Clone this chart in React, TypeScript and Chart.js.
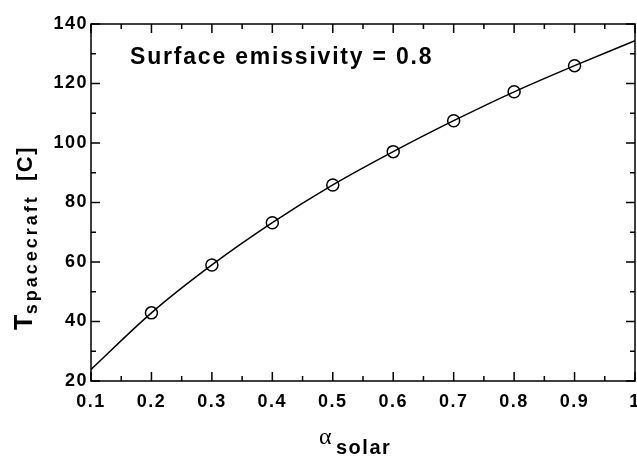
import React, { useEffect, useRef } from "react";
import { Chart, registerables } from "chart.js";

Chart.register(...registerables);

// ---- data ----
const curveAlpha = [0.1, 0.2, 0.3, 0.4, 0.5, 0.6, 0.7, 0.8, 0.9, 1.0];
const curveT = [23.9, 42.9, 59.0, 73.2, 85.9, 97.1, 107.5, 117.2, 126.0, 134.4];
const markerAlpha = [0.2, 0.3, 0.4, 0.5, 0.6, 0.7, 0.8, 0.9];
const markerT = [42.9, 59.0, 73.2, 85.9, 97.1, 107.5, 117.2, 126.0];
const xMajorTicks = [0.1, 0.2, 0.3, 0.4, 0.5, 0.6, 0.7, 0.8, 0.9, 1.0];
const xTickLabels = ["0.1", "0.2", "0.3", "0.4", "0.5", "0.6", "0.7", "0.8", "0.9", "1"];
const xMinorTicks = [0.15, 0.25, 0.35, 0.45, 0.55, 0.65, 0.75, 0.85, 0.95];
const yMajorTicks = [20, 40, 60, 80, 100, 120, 140];
const yMinorTicks = [30, 50, 70, 90, 110, 130];
const annotationText = "Surface emissivity = 0.8";
const yTitleMain = "T";
const yTitleSub = "spacecraft";
const yTitleUnit = "[C]";
const xTitleMain = "α";
const xTitleSub = "solar";

const SANS = "'Liberation Sans', Arial, sans-serif";

const framePlugin = {
  id: "frameTicks",
  beforeDraw(chart: any) {
    (chart.ctx as any).letterSpacing = "1.5px";
  },
  beforeDatasetsDraw(chart: any) {
    const { ctx, chartArea: a, scales } = chart;
    const xs = scales.x;
    const ys = scales.y;
    ctx.save();
    (ctx as any).letterSpacing = "0px";
    ctx.strokeStyle = "#000";
    ctx.lineWidth = 1.5;
    ctx.strokeRect(a.left, a.top, a.right - a.left, a.bottom - a.top);
    const major = 9;
    const minor = 5;
    ctx.beginPath();
    const xt = (v: number, len: number) => {
      const px = xs.getPixelForValue(v);
      ctx.moveTo(px, a.bottom);
      ctx.lineTo(px, a.bottom - len);
      ctx.moveTo(px, a.top);
      ctx.lineTo(px, a.top + len);
    };
    const yt = (v: number, len: number) => {
      const py = ys.getPixelForValue(v);
      ctx.moveTo(a.left, py);
      ctx.lineTo(a.left + len, py);
      ctx.moveTo(a.right, py);
      ctx.lineTo(a.right - len, py);
    };
    xMajorTicks.forEach((v) => xt(v, major));
    xMinorTicks.forEach((v) => xt(v, minor));
    yMajorTicks.forEach((v) => yt(v, major));
    yMinorTicks.forEach((v) => yt(v, minor));
    ctx.stroke();
    ctx.restore();
  },
  afterDraw(chart: any) {
    const { ctx } = chart;
    ctx.save();
    ctx.fillStyle = "#000";
    ctx.textAlign = "left";
    ctx.textBaseline = "alphabetic";

    // annotation
    (ctx as any).letterSpacing = "1.8px";
    ctx.font = `bold 23px ${SANS}`;
    ctx.fillText(annotationText, 130, 64);

    // x title
    (ctx as any).letterSpacing = "0px";
    ctx.font = `24px 'Liberation Serif', serif`;
    ctx.fillText(xTitleMain, 319, 444);
    (ctx as any).letterSpacing = "1.5px";
    ctx.font = `bold 20px ${SANS}`;
    ctx.fillText(xTitleSub, 336, 454);

    // y title (rotated)
    ctx.translate(32, 330);
    ctx.rotate(-Math.PI / 2);
    (ctx as any).letterSpacing = "1.5px";
    ctx.font = `bold 25px ${SANS}`;
    ctx.fillText(yTitleMain, 0, 0);
    const w = ctx.measureText(yTitleMain).width;
    (ctx as any).letterSpacing = "3px";
    ctx.font = `bold 18px ${SANS}`;
    ctx.fillText(yTitleSub, w - 1, 5);
    (ctx as any).letterSpacing = "1.5px";
    ctx.font = `bold 22px ${SANS}`;
    ctx.fillText(yTitleUnit, 149, 0);
    ctx.restore();
  },
};

export default function App() {
  const ref = useRef<HTMLCanvasElement | null>(null);
  useEffect(() => {
    if (!ref.current) return;
    const chart = new Chart(ref.current, {
      type: "line",
      data: {
        datasets: [
          {
            data: curveAlpha.map((x, i) => ({ x, y: curveT[i] })),
            borderColor: "#000",
            borderWidth: 1.5,
            pointRadius: 0,
            cubicInterpolationMode: "monotone",
            fill: false,
          } as any,
          {
            data: markerAlpha.map((x, i) => ({ x, y: markerT[i] })),
            showLine: false,
            pointRadius: 6,
            pointBackgroundColor: "#fff",
            pointBorderColor: "#000",
            pointBorderWidth: 1.5,
          } as any,
        ],
      },
      options: {
        animation: false,
        responsive: false,
        devicePixelRatio: 1,
        layout: { autoPadding: false, padding: { top: 24, right: 2, left: 0, bottom: 0 } },
        plugins: { legend: { display: false }, tooltip: { enabled: false } },
        scales: {
          x: {
            type: "linear",
            min: 0.1,
            max: 1.0,
            grid: { display: false, drawTicks: false },
            border: { display: false },
            afterBuildTicks: (s: any) => {
              s.ticks = xMajorTicks.map((v) => ({ value: v }));
            },
            afterFit: (s: any) => {
              s.height = 77;
              s.paddingLeft = 0;
              s.paddingRight = 0;
            },
            ticks: {
              autoSkip: false,
              maxRotation: 0,
              padding: 10,
              color: "#000",
              font: { family: SANS, size: 18, weight: "bold" },
              callback: (_v: any, i: number) => xTickLabels[i],
            },
          },
          y: {
            type: "linear",
            min: 20,
            max: 140,
            grid: { display: false, drawTicks: false },
            border: { display: false },
            afterBuildTicks: (s: any) => {
              s.ticks = yMajorTicks.map((v) => ({ value: v }));
            },
            afterFit: (s: any) => {
              s.width = 91;
              s.paddingTop = 0;
              s.paddingBottom = 0;
            },
            ticks: {
              padding: 3,
              color: "#000",
              font: { family: SANS, size: 18, weight: "bold" },
              callback: (v: any) => String(v),
            },
          },
        },
      },
      plugins: [framePlugin],
    });
    return () => chart.destroy();
  }, []);
  return (
    <div style={{ position: "fixed", left: 0, top: 0, width: 637, height: 458, background: "#fff" }}>
      <canvas ref={ref} width={637} height={458} />
    </div>
  );
}
